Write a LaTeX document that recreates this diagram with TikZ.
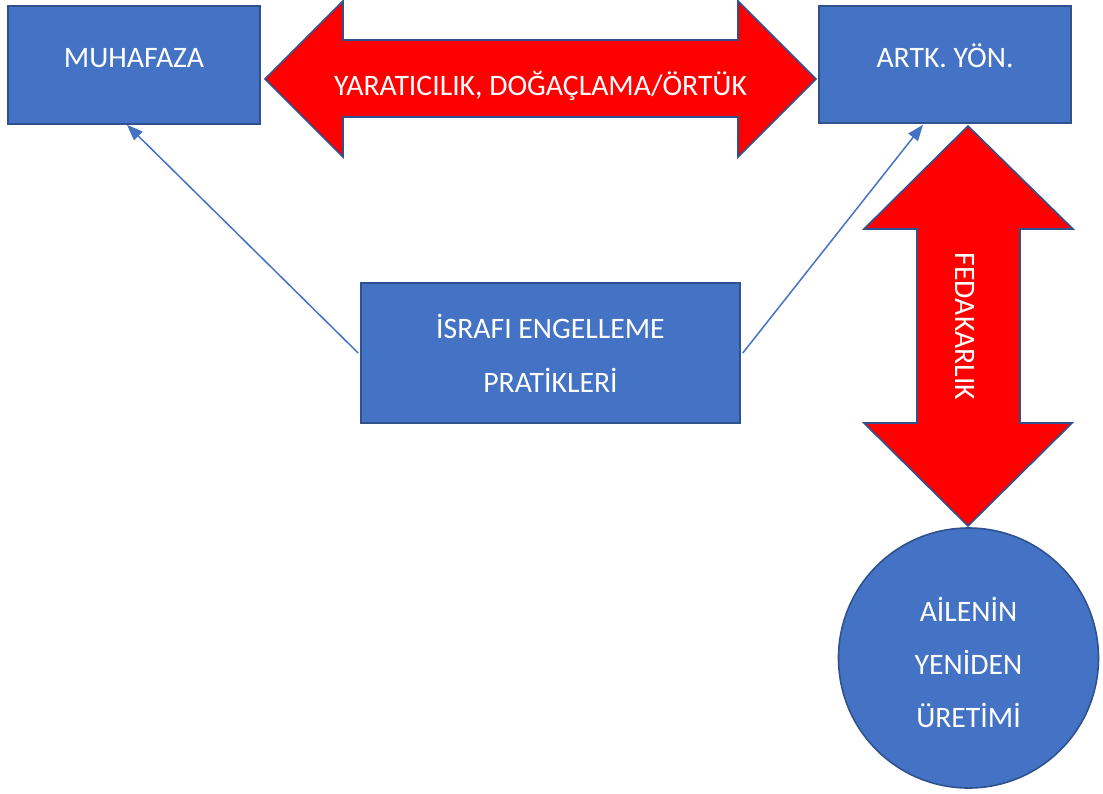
\documentclass[tikz,border=0pt]{standalone}
\usepackage{fontspec}
\setmainfont{Carlito}
\usetikzlibrary{arrows.meta}
\definecolor{accblue}{HTML}{4472C4}
\definecolor{accborder}{HTML}{2F528F}
\begin{document}
\begin{tikzpicture}[x=1pt,y=-1pt,
  box/.style={draw=accborder, fill=accblue, line width=1.6pt, inner sep=0pt},
  lbl/.style={text=white, font=\fontsize{29.7}{34}\selectfont, inner sep=0pt, anchor=base},
  bigarrow/.style={draw=accborder, fill=red, line width=1.6pt, line join=miter},
  thinarrow/.style={draw=accblue, line width=1.5pt, -{Triangle[length=16pt,width=12pt]}}]
\useasboundingbox (0,0) rectangle (1103,793);
% boxes
\node[box, minimum width=252pt, minimum height=118pt] (muh) at (134,65) {};
\node[box, minimum width=252pt, minimum height=117pt] (artk) at (945,64.5) {};
\node[box, minimum width=379pt, minimum height=140pt] (isr) at (550.5,353) {};
\node[box, circle, minimum size=260pt] (aile) at (968.5,658) {};
% big double arrows
\draw[bigarrow] (265,79) -- (343,1) -- (343,40) -- (738,40) -- (738,1) -- (816,79)
  -- (738,157) -- (738,117) -- (343,117) -- (343,157) -- cycle;
\draw[bigarrow] (968,126) -- (1073,229) -- (1020,229) -- (1020,423) -- (1072,423)
  -- (968,526) -- (864,423) -- (917,423) -- (917,229) -- (864,229) -- cycle;
% labels
\node[lbl] (tmuh) at (134,67) {MUHAFAZA};
\node[lbl] (tartk) at (945,67) {ARTK. YÖN.};
\node[lbl] (tyar) at (540.5,95) {YARATICILIK, DOĞAÇLAMA/ÖRTÜK};
\node[lbl, rotate=-90] (tfed) at (955,326.5) {FEDAKARLIK};
\node[lbl] (tisr1) at (550.5,338) {İSRAFI ENGELLEME};
\node[lbl] (tisr2) at (550.5,392) {PRATİKLERİ};
\node[lbl] (tai1) at (968.5,621) {AİLENİN};
\node[lbl] (tai2) at (968.5,674) {YENİDEN};
\node[lbl] (tai3) at (968.5,727) {ÜRETİMİ};
% thin connectors
\draw[thinarrow] ([xshift=-2pt]isr.west) -- ([xshift=-7pt]muh.south);
\draw[thinarrow] ([xshift=2pt]isr.east) -- ([xshift=-22pt,yshift=-1pt]artk.south);
\end{tikzpicture}
\end{document}
